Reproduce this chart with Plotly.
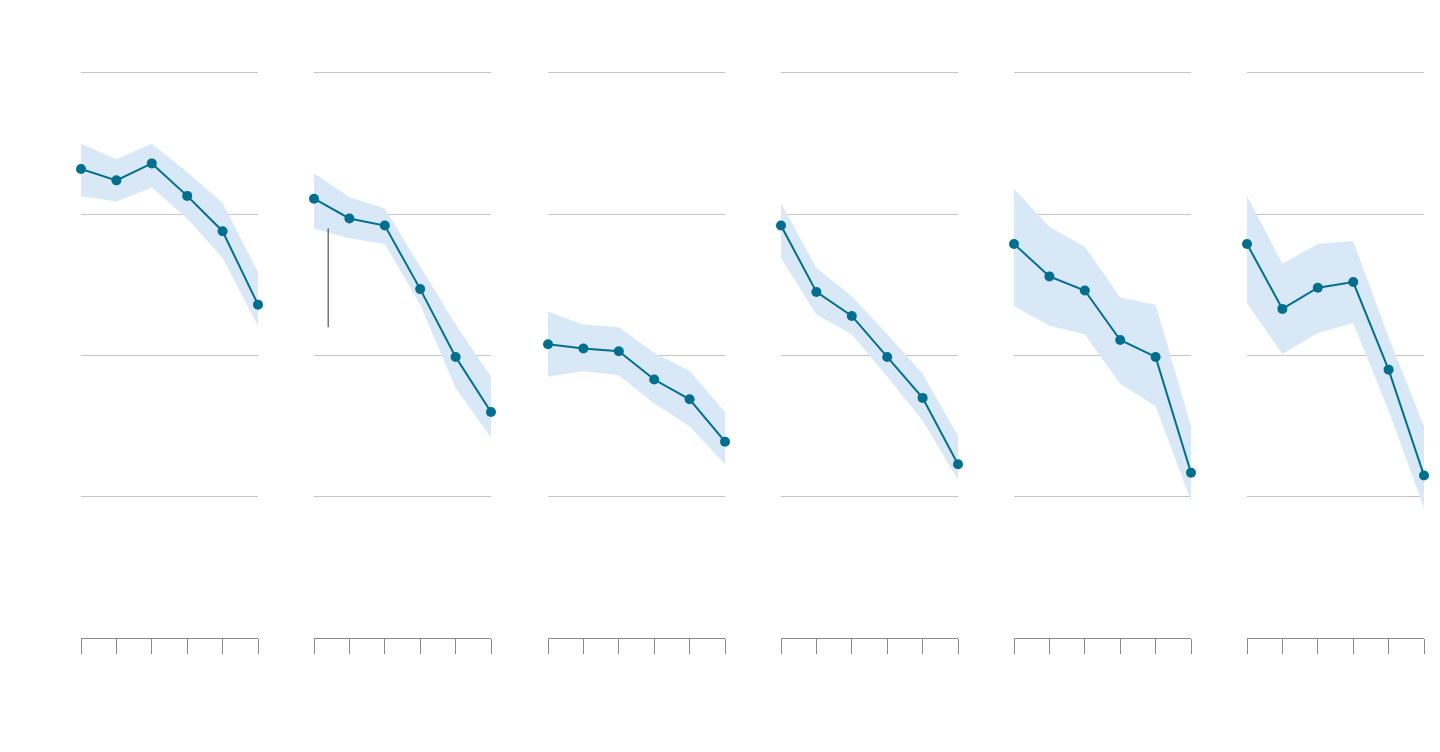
import plotly.graph_objects as go
from plotly.subplots import make_subplots

x_positions = [0, 1, 2, 3, 4, 5]

mean_1 = [3.32, 3.24, 3.36, 3.13, 2.88, 2.36]
upper_1 = [3.50, 3.39, 3.50, 3.30, 3.08, 2.59]
lower_1 = [3.13, 3.09, 3.19, 2.97, 2.69, 2.21]

mean_2 = [3.11, 2.97, 2.92, 2.47, 1.99, 1.60]
upper_2 = [3.29, 3.12, 3.04, 2.63, 2.22, 1.85]
lower_2 = [2.90, 2.83, 2.79, 2.36, 1.77, 1.42]

mean_3 = [2.08, 2.05, 2.03, 1.83, 1.69, 1.39]
upper_3 = [2.31, 2.22, 2.20, 2.02, 1.89, 1.60]
lower_3 = [1.85, 1.89, 1.86, 1.66, 1.50, 1.23]

mean_4 = [2.92, 2.45, 2.28, 1.99, 1.70, 1.23]
upper_4 = [3.08, 2.62, 2.42, 2.15, 1.87, 1.43]
lower_4 = [2.69, 2.29, 2.15, 1.85, 1.54, 1.12]

mean_5 = [2.79, 2.56, 2.46, 2.11, 1.99, 1.17]
upper_5 = [3.18, 2.91, 2.77, 2.41, 2.36, 1.50]
lower_5 = [2.35, 2.21, 2.15, 1.80, 1.64, 0.97]

mean_6 = [2.79, 2.33, 2.48, 2.52, 1.90, 1.15]
upper_6 = [3.13, 2.65, 2.79, 2.81, 2.13, 1.50]
lower_6 = [2.37, 2.01, 2.16, 2.23, 1.61, 0.92]

means = [mean_1, mean_2, mean_3, mean_4, mean_5, mean_6]
uppers = [upper_1, upper_2, upper_3, upper_4, upper_5, upper_6]
lowers = [lower_1, lower_2, lower_3, lower_4, lower_5, lower_6]

y_range = [0, 4.02]
grid_vals = [1, 2, 3, 4]

# marker line in panel 2
marker_x = 0.4
marker_y = [2.20, 2.90]

LINE = "#006f8e"
BAND = "#d8e8f6"
OFF = 8  # page body margin
W, H = 1440 - 2 * OFF, 752 - 2 * OFF

fig = make_subplots(rows=1, cols=6)

panel_left = [81, 314, 548, 781, 1014, 1247]
panel_width = 177
y_bottom_px = 638
y_top_px = 73 - 0.02 * 141.25

for i in range(6):
    c = i + 1
    fig.add_trace(go.Scatter(x=x_positions, y=uppers[i], mode="lines",
                             line=dict(width=0, color=BAND), hoverinfo="skip",
                             showlegend=False), row=1, col=c)
    fig.add_trace(go.Scatter(x=x_positions, y=lowers[i], mode="lines",
                             line=dict(width=0, color=BAND), fill="tonexty",
                             fillcolor=BAND, hoverinfo="skip",
                             showlegend=False), row=1, col=c)
    fig.add_trace(go.Scatter(x=x_positions, y=means[i], mode="lines+markers",
                             line=dict(width=2, color=LINE),
                             marker=dict(size=10, color=LINE),
                             cliponaxis=False, showlegend=False), row=1, col=c)
    xa = "xaxis" if i == 0 else f"xaxis{c}"
    ya = "yaxis" if i == 0 else f"yaxis{c}"
    fig.layout[xa].update(domain=[(panel_left[i] - OFF) / W,
                                  (panel_left[i] + panel_width - OFF) / W],
                          range=[0, 5], showgrid=False, zeroline=False,
                          showline=True, linecolor="#8a8a8a", linewidth=1,
                          ticks="outside", ticklen=15, tickcolor="#8a8a8a",
                          tickwidth=1, tickvals=x_positions, showticklabels=False)
    fig.layout[ya].update(domain=[(H - (y_bottom_px - OFF)) / H,
                                  (H - (y_top_px - OFF)) / H],
                          range=y_range,
                          showgrid=True, gridcolor="#c4c4c4", gridwidth=1,
                          tickvals=grid_vals, zeroline=False, showline=False,
                          showticklabels=False, ticks="")

fig.add_shape(type="line", xref="x2", yref="y2", x0=marker_x, x1=marker_x,
              y0=marker_y[0], y1=marker_y[1], line=dict(color="#333333", width=1))

fig.update_layout(width=W, height=H, margin=dict(l=0, r=0, t=0, b=0),
                  plot_bgcolor="white", paper_bgcolor="white")

fig.write_html("out.html")
